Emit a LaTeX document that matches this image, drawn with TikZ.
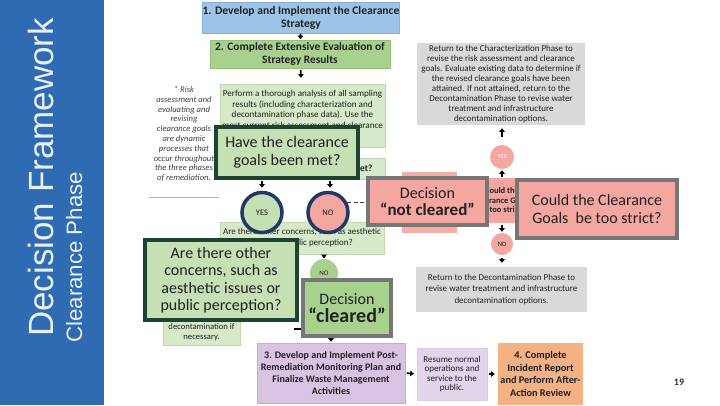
\documentclass[tikz,border=0pt]{standalone}
\usepackage{fontspec}
\setmainfont{Carlito}
\newfontfamily\bandfont{Liberation Sans}
\usetikzlibrary{arrows.meta}
\definecolor{band}{RGB}{46,107,178}
\definecolor{bandtxt}{RGB}{232,240,252}
\definecolor{bonefill}{RGB}{157,195,230}
\definecolor{boneline}{RGB}{135,175,215}
\definecolor{gfill}{RGB}{169,209,142}
\definecolor{gline}{RGB}{150,192,122}
\definecolor{lgfill}{RGB}{214,233,200}
\definecolor{lgline}{RGB}{192,215,176}
\definecolor{ovgreen}{RGB}{197,224,180}
\definecolor{ovdark}{RGB}{28,68,48}
\definecolor{ovgray}{RGB}{118,118,118}
\definecolor{salmon}{RGB}{244,166,160}
\definecolor{navy}{RGB}{31,56,100}
\definecolor{grayfill}{RGB}{217,217,217}
\definecolor{purp}{RGB}{216,196,226}
\definecolor{purpline}{RGB}{196,172,210}
\definecolor{lpurp}{RGB}{226,212,234}
\definecolor{orng}{RGB}{244,177,131}
\definecolor{txt}{RGB}{32,32,32}
\tikzset{
  bx/.style={rectangle, inner sep=0pt, align=center, text=txt},
  ov/.style={rectangle, inner sep=0pt, align=center, text=txt, line width=3.5pt,
             font=\fontsize{16}{17.5}\selectfont},
  circ/.style={circle, inner sep=0pt, text=txt},
  arr/.style={-{Triangle[length=3.6pt,width=5.5pt]}, line width=1.6pt, black},
  dline/.style={dashed, dash pattern=on 4pt off 2.5pt, line width=1.3pt, black!75},
}
\begin{document}
\begin{tikzpicture}[x=1pt,y=-1pt]
\useasboundingbox (0,0) rectangle (720,405);
\fill[white] (0,0) rectangle (720,405);
% left band
\fill[band] (0,0) rectangle (104,405);
\node[rotate=90, anchor=base west, inner sep=0pt, text=bandtxt,
      font=\bandfont\fontsize{35}{35}\selectfont] (ttl) at (53,337) {Decision Framework};
\node[rotate=90, anchor=base west, inner sep=0pt, text=bandtxt,
      font=\bandfont\fontsize{22.3}{22.3}\selectfont] (sub) at (82,343) {Clearance Phase};

% underlying flowchart
\node[bx, fill=bonefill, draw=boneline, minimum width=181pt, minimum height=31pt,
      font=\fontsize{11.6}{13}\selectfont\bfseries] (b1) at (301,17.5)
      {1. Develop and Implement the Clearance\\Strategy};
\node[bx, fill=gfill, draw=gline, minimum width=180pt, minimum height=28pt,
      font=\fontsize{11.4}{12.5}\selectfont\bfseries] (b2) at (300,54)
      {2. Complete Extensive Evaluation of\\Strategy Results};
\node[bx, fill=lgfill, draw=lgline, minimum width=165pt, minimum height=63pt,
      font=\fontsize{9.1}{10.8}\selectfont] (perf) at (302.5,115.5)
      {Perform a thorough analysis of all sampling\\results (including characterization and\\decontamination phase data). Use the\\most current risk assessment and clearance\\goals*.};
\node[bx, fill=lgfill, draw=lgline, minimum width=165pt, minimum height=21pt,
      font=\fontsize{9.4}{10}\selectfont\bfseries] (met) at (302.5,168.5)
      {Have the clearance goals been met?};
\node[bx, text=black!75, font=\fontsize{8.6}{9.8}\selectfont\itshape] (note) at (184,134)
      {* Risk\\assessment and\\evaluating and\\revising\\clearance goals\\are dynamic\\processes that\\occur throughout\\the three phases\\of remediation.};
\draw[black!30, line width=0.6pt] (149,197) -- (219,197);

\node[bx, fill=lgfill, draw=lgline, minimum width=164pt, minimum height=32pt,
      font=\fontsize{9}{11}\selectfont] (conc) at (302,238)
      {Are there other concerns, such as aesthetic\\issues or public perception?};
\node[circ, fill=ovgreen, draw=navy, line width=3.5pt, minimum size=40pt,
      font=\fontsize{8.5}{9}\selectfont] (yesa) at (262,212.5) {YES};
\node[circ, fill=salmon, draw=navy, line width=3.5pt, minimum size=40pt,
      font=\fontsize{8.5}{9}\selectfont] (noa) at (328,212.5) {NO};

% right column
\node[bx, fill=grayfill, minimum width=168pt, minimum height=82pt,
      font=\fontsize{9}{10}\selectfont] (reta) at (501,84)
      {Return to the Characterization Phase to\\revise the risk assessment and clearance\\goals. Evaluate existing data to determine if\\the revised clearance goals have been\\attained. If not attained, return to the\\Decontamination Phase to revise water\\treatment and infrastructure\\decontamination options.};
\node[circ, fill=salmon, minimum size=24pt, text=white,
      font=\fontsize{6}{7}\selectfont] (yesb) at (502,157) {YES};
\node[bx, fill=salmon!92!white, minimum width=55pt, minimum height=61pt] (salr) at (429.5,202.5) {};
\node[bx, fill=salmon, minimum width=96pt, minimum height=45pt,
      font=\fontsize{8.5}{9.5}\selectfont\bfseries] (coulda) at (502,200.5)
      {Could the\\Clearance Goals\\be too strict?};
\node[circ, fill=salmon, minimum size=22pt,
      font=\fontsize{6.5}{7}\selectfont] (nob) at (502,244) {NO};
\node[bx, fill=grayfill, minimum width=171pt, minimum height=45pt,
      font=\fontsize{9}{11.5}\selectfont] (retb) at (501.5,289.5)
      {Return to the Decontamination Phase to\\revise water treatment and infrastructure\\decontamination options.};

% lower part
\node[circ, fill=gfill, minimum size=28pt, font=\fontsize{7}{8}\selectfont] (noc) at (324,273) {NO};
\node[bx, fill=lgfill, draw=lgline, minimum width=77pt, minimum height=48pt] (dec) at (201.5,321) {};
\node[bx, font=\fontsize{8.6}{10}\selectfont] (dect) at (201.5,332) {decontamination if\\necessary.};
\node[bx, fill=purp, draw=purpline, minimum width=148pt, minimum height=60pt,
      font=\fontsize{10}{12.3}\selectfont\bfseries] (bthree) at (331,373)
      {3. Develop and Implement Post-\\Remediation Monitoring Plan and\\Finalize Waste Management\\Activities};
\node[bx, fill=lpurp, draw=purpline!60, minimum width=70pt, minimum height=52pt,
      font=\fontsize{9}{9.6}\selectfont] (res) at (452,374)
      {Resume normal\\operations and\\service to the\\public.};
\node[bx, fill=orng, minimum width=85pt, minimum height=62pt,
      font=\fontsize{10.3}{12.8}\selectfont\bfseries] (bfour) at (540.5,374)
      {4. Complete\\Incident Report\\and Perform After-\\Action Review};
\node[bx, text=black!80, font=\fontsize{10}{12}\selectfont\bfseries] (pg) at (679,382) {19};

% arrows
\draw[arr, shorten <=0.5pt, shorten >=0.5pt] (b1) -- (b2);
\draw[arr, shorten <=2pt, shorten >=6pt] (b2) -- (perf);
\draw[arr, shorten <=2pt, shorten >=3pt] (met.south -| yesa) -- (yesa.north);
\draw[arr, shorten <=2pt, shorten >=3pt] (met.south -| noa.north) ++(2,0) -- ([xshift=2pt]noa.north);
\draw[arr, shorten <=8pt, shorten >=3pt] (yesb.north) -- (reta.south -| yesb);
\draw[arr, shorten <=1pt, shorten >=1pt] (coulda.north) -- (yesb.south);
\draw[arr, shorten <=2pt, shorten >=1pt] (coulda.south) -- (nob.north);
\draw[arr, shorten <=3pt, shorten >=4pt] (nob.south) -- (retb.north -| nob);
\draw[arr, shorten <=0.5pt, shorten >=0.5pt] (conc.south -| noc) -- (noc.north);
\coordinate (afree) at (294,329);
\draw[arr] (afree) -- (afree -| 305,0);
\draw[arr, shorten <=1pt, shorten >=1pt] (bthree.north -| 331,0) ++(0,-7) -- (bthree.north -| 331,0);
\draw[arr, shorten <=1.5pt, shorten >=3pt] (bthree.east) -- (res.west);
\draw[arr, shorten <=1.5pt, shorten >=3pt] (res.east) -- (bfour.west);
\draw[dline] (noa.27) -- (noa.27 -| 370,0);

% overlays
\node[ov, fill=ovgreen, draw=ovdark, minimum width=142pt, minimum height=51pt] (ovone) at (287,152.5)
      {Have the clearance\\goals been met?};
\node[ov, fill=salmon, draw=ovgray, minimum width=119pt, minimum height=47pt] (notcl) at (427.5,201.5)
      {Decision\\{\bfseries\fontsize{17}{19}\selectfont “not cleared”}};
\node[ov, fill=salmon, draw=ovgray, minimum width=160pt, minimum height=58pt] (couldb) at (597,209)
      {Could the Clearance\\Goals~ be too strict?};
\node[ov, fill=ovgreen, draw=ovdark, minimum width=152pt, minimum height=80pt] (ovthree) at (221,280)
      {Are there other\\concerns, such as\\aesthetic issues or\\public perception?};
\node[ov, fill=gfill, draw=ovgray, minimum width=88pt, minimum height=56pt] (clr) at (347,308)
      {Decision\\{\bfseries\fontsize{20}{21}\selectfont “cleared”}};
\end{tikzpicture}
\end{document}
